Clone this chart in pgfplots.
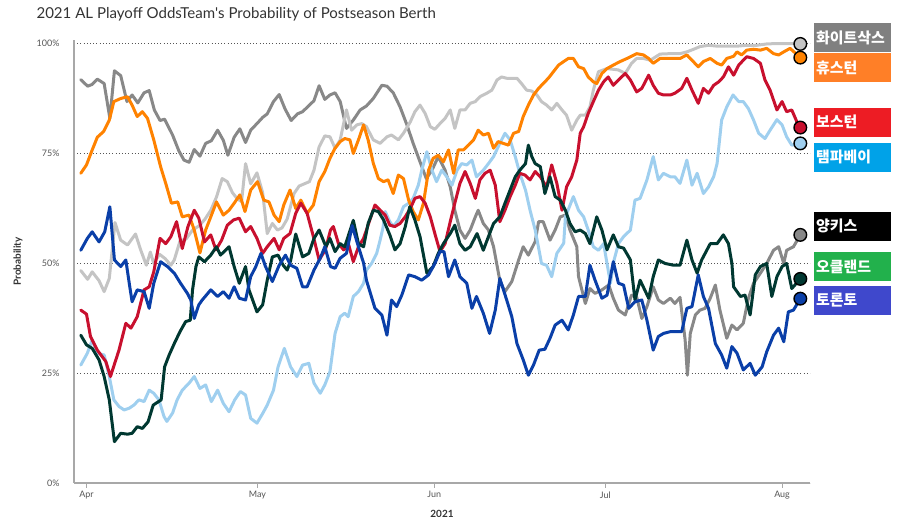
\documentclass[border=0pt]{standalone}
\usepackage{pgfplots}
\pgfplotsset{compat=1.18}
\usepackage{fontspec}
\setmainfont{Lato}
\newfontfamily\kr{Noto Sans CJK KR}
\definecolor{wsox}{HTML}{C4C4C4}
\definecolor{hou}{HTML}{FF8200}
\definecolor{bos}{HTML}{C8102E}
\definecolor{tb}{HTML}{9FCFEF}
\definecolor{nyy}{HTML}{888888}
\definecolor{oak}{HTML}{003831}
\definecolor{tor}{HTML}{0A3FA8}
\definecolor{bwsox}{HTML}{808080}
\definecolor{bhou}{HTML}{FF7F27}
\definecolor{bbos}{HTML}{ED1C24}
\definecolor{btb}{HTML}{00A2E8}
\definecolor{bnyy}{HTML}{000000}
\definecolor{boak}{HTML}{22B14C}
\definecolor{btor}{HTML}{3F48CC}
\definecolor{axisgrey}{HTML}{A8A8A8}
\definecolor{labelgrey}{HTML}{555555}
\definecolor{titlegrey}{HTML}{333333}
\begin{document}
\begin{tikzpicture}
\begin{axis}[
  at={(74bp,43bp)}, anchor=south west,
  scale only axis, width=736bp, height=443bp,
  xmin=-2.19, xmax=126.9, ymin=0, ymax=100.7,
  clip=false,
  axis x line*=bottom, axis y line*=left,
  axis line style={draw=axisgrey, line width=1.5bp, -},
  xtick={0,30,61,91,122}, xticklabels={Apr,May,Jun,Jul,Aug},
  ytick={0,25,50,75,100}, yticklabels={0\%,25\%,50\%,75\%,100\%},
  tick align=outside, major tick length=5bp,
  xtick style={draw=axisgrey, line width=1bp},
  ytick style={draw=none},
  ymajorgrids,
  grid style={draw=labelgrey, line width=0.8bp, dash pattern=on 0.8bp off 2.4bp},
  /pgf/number format/assume math mode=true,
  xticklabel style={font=\fontsize{9}{10}\selectfont, text=labelgrey},
  yticklabel style={font=\fontsize{9}{10}\selectfont, text=labelgrey, xshift=-6bp},
  xlabel={2021}, ylabel={Probability},
  xlabel style={at={(axis description cs:0.5,-0.07)}, anchor=center, font=\bfseries\fontsize{10}{12}\selectfont, text=titlegrey},
  ylabel style={at={(axis description cs:-0.076,0.5)}, anchor=center, font=\bfseries\fontsize{10}{12}\selectfont, text=titlegrey},
  title={2021 AL Playoff OddsTeam\textquotesingle s Probability of Postseason Berth},
  title style={at={(axis description cs:-0.0557,1.034)}, anchor=base west, font=\fontsize{15.1}{17}\selectfont, text=titlegrey},
  every axis plot/.append style={line width=3bp, line join=round, line cap=round},
]
% Yankees
\addplot[nyy, mark=none] coordinates {(-1.0,91.7)(0.2,90.2)(1.0,90.6)(1.9,91.8)(3.1,90.8)(4.1,82.9)(4.9,93.7)(6.0,92.6)(7.1,86.7)(8.0,88.2)(9.0,86.4)(10.1,88.7)(11.0,89.2)(11.9,84.8)(12.9,82.4)(13.7,82.7)(15.1,79.1)(16.2,75.5)(17.1,73.4)(18.0,72.9)(18.9,75.8)(19.9,74.3)(20.9,77.2)(21.9,77.8)(23.0,80.2)(24.0,77.9)(24.8,74.5)(25.9,78.6)(26.9,80.5)(27.9,77.4)(28.8,80.2)(29.9,81.7)(30.9,83.1)(31.7,83.9)(32.8,86.7)(33.8,88.3)(34.8,85.1)(35.9,82.4)(37.0,83.9)(37.9,84.4)(38.7,85.4)(39.9,86.9)(40.8,90.3)(41.8,87.2)(42.7,88.2)(43.6,88.7)(44.5,86.7)(45.6,80.6)(46.8,82.5)(48.0,84.8)(49.1,85.7)(50.3,87.4)(51.8,90.4)(52.7,90.2)(53.8,88.7)(55.0,85.5)(56.2,81.4)(57.3,77.2)(58.5,73.0)(59.6,69.2)(60.6,71.1)(61.7,74.2)(62.9,71.1)(63.8,67.3)(64.6,62.0)(65.5,57.5)(66.4,55.6)(67.3,57.5)(68.2,60.5)(68.7,62.0)(69.6,59.0)(70.5,57.5)(71.4,53.7)(72.5,46.0)(73.4,43.5)(74.6,45.8)(75.8,50.7)(76.6,53.7)(77.5,51.8)(78.7,54.9)(79.3,59.4)(80.1,59.4)(81.3,55.2)(82.2,57.5)(83.1,60.5)(84.0,60.9)(84.8,57.5)(86.0,53.7)(86.3,46.9)(87.5,40.8)(88.3,44.2)(89.2,43.1)(90.4,43.9)(91.6,45.0)(92.4,42.0)(93.3,39.3)(94.5,38.2)(95.6,42.7)(96.5,42.3)(97.4,37.4)(98.3,40.1)(99.4,44.6)(100.3,41.6)(101.2,40.8)(102.4,42.0)(103.2,40.8)(104.1,42.2)(105.0,32.5)(105.4,24.5)(105.9,34.0)(106.8,38.2)(107.6,39.3)(108.5,39.7)(109.4,42.0)(110.3,45.0)(111.1,39.3)(112.3,32.9)(113.2,35.9)(114.1,34.8)(115.2,36.3)(116.1,42.0)(117.0,45.4)(118.2,47.7)(119.3,49.9)(120.5,52.9)(121.4,53.7)(122.3,49.9)(122.8,52.9)(124.0,53.7)(125.2,56.4)};
% White Sox
\addplot[wsox, mark=none] coordinates {(-1.0,48.3)(0.2,46.3)(1.0,48.0)(2.2,46.0)(3.1,43.5)(4.0,46.5)(5.0,59.2)(6.0,55.2)(7.2,54.1)(8.6,56.6)(9.5,53.0)(10.5,49.5)(11.2,52.5)(11.8,49.9)(12.8,52.0)(13.8,51.0)(14.8,49.5)(15.4,50.7)(16.4,55.0)(17.5,55.5)(18.6,57.5)(19.8,58.5)(20.8,60.0)(21.8,62.0)(22.8,65.0)(23.8,69.2)(24.7,68.5)(25.6,66.0)(26.5,64.5)(27.2,64.0)(27.9,72.6)(28.8,68.0)(29.9,70.5)(30.9,66.0)(31.7,56.7)(32.6,59.0)(33.5,57.5)(34.3,58.0)(35.2,60.0)(36.4,65.8)(37.3,67.5)(38.2,68.0)(39.1,68.5)(39.9,71.1)(40.8,76.4)(41.8,78.9)(42.7,78.7)(43.6,76.1)(44.5,78.0)(45.6,84.8)(46.5,80.2)(47.4,81.4)(48.3,81.7)(49.1,81.0)(50.3,78.0)(51.5,77.2)(52.7,78.7)(53.5,79.1)(54.7,78.0)(55.6,79.5)(56.8,82.1)(57.6,84.4)(58.5,85.9)(59.4,84.0)(60.3,81.0)(61.1,80.4)(62.0,81.7)(62.9,82.9)(63.8,84.8)(64.6,80.6)(65.5,84.8)(66.4,84.8)(67.3,86.3)(68.2,86.7)(69.0,87.8)(70.2,88.6)(71.1,89.3)(72.0,91.6)(72.8,92.3)(73.7,92.0)(74.6,92.0)(75.5,92.0)(76.3,90.8)(77.2,89.3)(78.1,89.1)(79.0,88.2)(79.8,86.7)(80.7,85.9)(81.6,84.8)(82.5,86.3)(83.4,84.8)(84.2,83.6)(85.1,80.2)(86.0,82.5)(86.6,83.6)(87.5,83.6)(88.3,85.5)(88.9,89.3)(89.8,93.5)(91.3,94.2)(93.3,93.9)(94.5,93.1)(95.6,95.4)(96.5,96.5)(97.7,96.5)(98.9,96.1)(100.6,97.5)(102.4,97.6)(104.1,97.6)(105.3,98.0)(106.5,98.6)(107.6,99.2)(109.1,99.5)(110.6,99.3)(112.3,99.3)(114.1,99.3)(115.8,99.5)(117.6,99.5)(119.3,99.8)(121.1,99.9)(122.8,99.9)(124.0,99.9)(125.2,99.8)};
% Rays
\addplot[tb, mark=none] coordinates {(-1.0,26.8)(0.15,29.5)(1.0,32.5)(1.9,29.5)(3.1,29.1)(4.0,24.2)(4.8,18.9)(5.7,17.4)(6.6,16.6)(7.5,17.0)(8.3,17.7)(9.2,18.9)(10.1,18.5)(11.0,21.1)(11.8,20.4)(12.7,18.9)(13.6,15.1)(14.1,14.0)(15.1,15.9)(15.9,18.9)(16.8,21.1)(18.0,22.7)(18.9,24.2)(19.9,21.5)(20.9,22.3)(21.9,18.5)(23.0,21.1)(24.0,18.1)(25.0,16.2)(26.0,18.9)(27.0,20.8)(27.9,20.0)(28.8,14.7)(29.9,13.6)(30.9,15.8)(31.7,17.7)(32.8,21.1)(33.6,26.4)(34.7,30.6)(35.8,26.4)(36.9,24.2)(37.9,26.8)(39.0,27.2)(39.9,22.7)(41.0,20.4)(41.8,22.3)(42.7,25.3)(43.6,34.0)(44.5,37.8)(45.3,38.6)(45.9,37.8)(46.8,42.4)(47.7,43.5)(48.6,45.4)(49.1,48.4)(50.0,49.9)(50.9,52.2)(51.5,55.2)(52.0,58.0)(52.4,61.7)(53.2,59.4)(53.8,58.3)(54.7,59.8)(55.6,62.8)(56.5,63.6)(57.3,64.7)(58.2,67.7)(58.8,71.1)(59.7,75.3)(60.6,71.1)(61.4,68.5)(62.3,71.1)(63.2,69.6)(64.1,67.7)(65.0,71.1)(65.8,72.6)(66.7,72.3)(67.6,73.4)(68.4,69.6)(69.6,71.1)(70.5,72.6)(71.4,74.2)(72.5,77.2)(73.4,79.5)(74.3,78.0)(75.2,74.2)(76.0,70.4)(77.0,66.6)(77.8,62.0)(78.7,57.5)(79.6,51.4)(79.8,49.9)(80.7,49.5)(81.6,46.9)(82.5,52.2)(83.7,54.5)(84.0,60.5)(85.4,65.1)(86.3,62.0)(87.2,60.5)(88.0,57.5)(88.9,53.7)(89.8,52.9)(90.7,54.4)(91.9,45.4)(92.5,50.5)(93.3,54.4)(94.2,56.0)(95.4,57.5)(96.2,64.3)(97.1,64.7)(98.3,68.9)(99.4,74.2)(100.3,68.9)(101.2,70.4)(102.4,69.6)(103.2,69.6)(104.1,68.1)(105.3,73.4)(106.2,67.7)(107.1,70.4)(108.2,65.8)(109.1,67.3)(110.0,69.6)(110.6,72.6)(111.4,82.5)(112.3,85.5)(113.4,88.2)(114.4,86.7)(115.2,86.7)(116.1,85.1)(117.0,82.5)(117.9,79.5)(119.0,78.3)(119.9,80.2)(121.1,82.6)(122.0,81.4)(122.8,78.7)(123.7,76.8)(125.2,77.2)};
% Astros
\addplot[hou, mark=none] coordinates {(-1.0,70.4)(0.0,72.3)(1.0,75.7)(1.9,78.6)(3.0,79.9)(4.0,82.5)(4.8,86.7)(6.0,87.4)(7.2,87.8)(8.0,85.9)(8.9,83.3)(9.8,84.4)(10.7,82.9)(11.8,78.0)(13.0,71.9)(13.9,68.1)(14.9,63.6)(16.0,63.9)(16.8,60.5)(18.0,60.9)(18.9,57.5)(19.9,52.3)(20.9,57.5)(21.8,60.5)(22.8,63.9)(24.0,60.9)(25.0,62.0)(25.9,63.6)(26.9,65.5)(27.8,61.7)(28.8,66.6)(30.0,68.5)(31.1,64.3)(32.0,63.9)(32.9,60.9)(33.8,59.4)(34.6,63.2)(35.7,66.6)(36.7,62.4)(37.6,64.3)(38.7,61.3)(39.8,63.2)(40.8,68.5)(41.8,70.8)(42.7,73.8)(43.6,76.1)(44.5,77.6)(45.3,78.3)(46.2,78.0)(46.8,74.9)(47.7,78.0)(48.6,81.4)(49.4,78.0)(50.3,72.7)(51.2,69.2)(52.1,68.5)(52.9,68.9)(53.8,65.8)(54.7,70.0)(55.6,69.2)(56.5,64.3)(57.3,61.7)(58.2,59.8)(59.1,63.6)(60.0,71.1)(60.8,73.8)(61.7,74.5)(62.6,73.0)(63.5,75.7)(64.4,70.4)(65.2,75.7)(66.1,75.7)(67.0,76.8)(67.9,78.0)(68.7,80.2)(69.6,79.1)(70.5,79.5)(71.4,76.1)(72.2,77.6)(73.1,77.2)(74.0,76.8)(74.9,79.5)(75.8,79.9)(76.6,83.3)(77.5,85.9)(78.4,88.2)(79.3,89.7)(80.1,90.8)(81.0,92.0)(81.9,93.5)(82.8,95.0)(83.7,95.8)(84.5,96.5)(85.4,96.5)(86.3,94.6)(87.2,94.2)(88.0,92.3)(88.9,91.2)(89.5,90.8)(90.4,93.1)(91.3,94.2)(92.4,95.0)(93.6,95.8)(94.8,96.5)(95.6,97.0)(96.5,97.6)(97.7,97.3)(98.6,96.5)(99.4,95.4)(100.6,96.5)(102.4,96.5)(104.1,96.5)(105.3,97.3)(106.2,96.1)(107.3,94.6)(108.2,95.8)(109.4,96.5)(110.6,95.4)(111.4,95.0)(112.3,96.5)(113.5,97.0)(114.1,98.0)(114.9,97.3)(115.8,98.4)(117.0,98.6)(118.2,98.4)(119.3,98.8)(120.5,97.6)(121.4,97.3)(122.3,98.0)(123.4,98.8)(125.2,96.7)};
% Boston
\addplot[bos, mark=none] coordinates {(-1.0,39.3)(0.0,38.4)(0.7,33.3)(1.9,30.2)(3.4,27.6)(4.2,24.2)(5.7,30.2)(6.9,36.3)(7.8,35.2)(8.9,37.8)(10.1,43.9)(11.0,44.6)(11.8,48.0)(12.9,55.6)(13.9,54.4)(14.8,56.0)(15.8,59.4)(16.8,53.3)(17.8,58.3)(18.9,62.0)(19.7,60.2)(20.7,54.8)(21.8,56.4)(22.7,53.0)(23.7,55.2)(24.7,58.6)(25.8,59.8)(26.8,60.2)(27.9,57.1)(28.8,58.3)(29.9,55.6)(30.9,52.2)(31.7,53.7)(32.9,55.6)(33.8,53.0)(34.6,55.6)(35.7,56.7)(36.7,61.3)(37.6,63.6)(38.7,61.3)(39.8,56.0)(40.8,50.7)(41.9,53.0)(42.8,57.5)(43.3,58.3)(44.2,54.4)(45.1,53.0)(46.0,54.1)(46.8,50.3)(47.7,53.7)(48.6,55.6)(49.7,59.8)(50.6,63.2)(51.5,62.0)(52.4,60.9)(53.2,58.6)(54.1,58.3)(55.0,59.0)(55.9,60.5)(56.8,62.4)(57.6,64.7)(58.5,65.1)(59.4,63.6)(60.3,60.5)(61.1,56.7)(62.0,52.6)(62.9,54.4)(63.8,59.4)(64.6,63.6)(65.5,68.1)(66.4,70.8)(67.3,68.1)(68.2,64.7)(69.0,68.9)(69.9,70.4)(70.8,71.1)(71.7,67.7)(72.5,59.4)(73.4,62.0)(74.3,65.1)(75.2,67.7)(76.0,70.4)(76.9,70.0)(77.8,68.9)(78.7,70.8)(79.6,69.6)(80.7,67.3)(81.6,72.3)(82.5,68.1)(83.4,62.0)(84.2,67.3)(85.1,69.6)(86.0,73.4)(86.6,79.5)(87.2,81.0)(88.0,84.0)(88.9,86.7)(89.8,89.3)(90.7,91.2)(91.5,92.3)(92.4,90.4)(93.3,91.6)(94.5,93.1)(95.4,91.6)(96.5,88.9)(97.4,89.7)(98.6,92.7)(99.4,90.4)(100.3,88.6)(101.2,88.2)(102.4,88.2)(103.2,88.6)(104.4,89.7)(105.3,92.0)(106.2,89.3)(107.3,86.3)(108.2,89.7)(109.1,88.6)(110.0,90.4)(110.9,91.2)(111.7,92.3)(112.6,94.6)(113.5,92.7)(114.4,95.0)(115.2,96.1)(115.8,96.9)(117.0,96.5)(118.2,95.4)(119.0,91.6)(119.9,89.3)(121.1,84.8)(122.0,86.7)(122.8,84.4)(123.7,84.8)(124.6,82.1)(125.2,80.8)};
% Oakland
\addplot[oak, mark=none] coordinates {(-1.0,33.6)(0.0,31.4)(1.0,30.6)(2.2,28.0)(3.1,24.2)(4.0,18.9)(4.5,13.6)(4.9,9.4)(6.0,11.3)(7.2,11.1)(8.0,11.3)(8.9,12.8)(9.8,12.4)(10.8,13.9)(11.7,17.7)(12.4,18.3)(13.1,18.9)(13.7,26.4)(14.5,29.1)(15.4,31.7)(16.4,34.4)(17.4,36.7)(18.2,37.0)(18.6,43.9)(19.2,49.2)(19.7,51.4)(20.7,50.3)(21.8,51.8)(22.8,53.7)(23.5,51.8)(25.0,53.7)(25.9,49.2)(26.8,45.4)(27.9,49.2)(28.5,43.9)(29.9,38.9)(30.9,40.5)(31.7,46.1)(32.6,51.4)(33.6,51.8)(34.5,49.5)(35.2,48.4)(35.8,50.5)(36.7,56.6)(37.9,51.4)(39.0,52.2)(39.9,55.6)(40.8,57.5)(42.0,53.7)(42.7,55.6)(43.6,52.6)(44.5,54.4)(45.3,53.7)(46.8,59.7)(47.7,54.4)(48.6,53.7)(49.4,59.0)(50.3,62.0)(51.2,61.7)(52.1,59.8)(53.2,56.4)(54.1,53.0)(55.0,54.4)(55.9,58.2)(56.7,62.8)(57.6,59.8)(58.5,56.0)(59.7,47.7)(60.8,49.2)(61.7,52.2)(62.6,54.4)(63.8,56.7)(64.6,58.6)(65.5,54.4)(66.4,52.9)(67.3,53.7)(68.5,56.7)(69.6,52.9)(70.5,56.0)(71.4,59.0)(72.5,60.5)(73.4,63.6)(74.3,66.6)(75.2,69.6)(76.0,71.1)(77.0,72.6)(77.5,76.8)(78.1,74.2)(78.7,72.6)(79.6,71.9)(80.4,65.8)(81.3,69.6)(82.2,65.1)(83.1,64.3)(84.0,62.0)(84.8,59.0)(85.7,57.1)(86.6,57.5)(87.5,56.7)(88.3,54.4)(89.5,60.5)(90.4,57.5)(91.3,53.0)(92.4,56.4)(93.3,53.7)(94.2,53.4)(95.1,51.4)(95.4,50.7)(96.2,41.6)(97.1,46.1)(98.6,42.0)(99.4,46.9)(100.3,50.7)(101.5,49.9)(103.0,49.5)(104.1,49.5)(105.3,55.2)(106.2,50.7)(107.1,47.7)(107.9,50.7)(109.4,54.4)(110.6,54.4)(111.7,56.4)(112.6,54.4)(113.2,49.9)(113.5,44.6)(114.7,42.4)(115.5,42.7)(116.4,38.2)(117.3,47.3)(118.2,49.2)(119.3,49.9)(120.2,42.4)(121.1,46.9)(122.0,49.2)(122.8,49.9)(123.7,44.2)(125.2,46.4)};
% Toronto
\addplot[tor, mark=none] coordinates {(-1.0,52.9)(0.15,55.6)(1.0,57.1)(2.2,54.8)(3.2,57.1)(4.1,62.8)(4.9,50.7)(6.0,49.2)(6.9,50.7)(7.5,45.4)(8.0,41.2)(8.9,43.9)(10.1,43.5)(11.0,39.7)(11.8,45.4)(13.0,50.3)(14.2,49.2)(15.4,47.7)(16.5,45.4)(17.7,43.1)(18.3,41.6)(18.9,37.4)(19.7,40.5)(20.3,41.6)(21.8,43.9)(23.0,42.4)(24.0,43.5)(25.0,42.0)(25.9,44.6)(26.8,42.0)(27.9,41.6)(28.8,46.9)(29.7,49.2)(30.6,52.2)(31.4,49.2)(32.6,45.8)(33.8,49.5)(34.9,51.8)(35.8,49.5)(36.9,48.8)(37.9,44.6)(38.7,44.6)(39.9,48.4)(41.0,51.1)(41.8,53.7)(42.8,49.2)(43.6,48.8)(44.5,51.1)(45.6,52.2)(46.6,58.5)(47.7,53.7)(48.6,50.0)(49.1,46.1)(50.6,39.7)(51.8,38.2)(52.7,33.6)(53.5,41.6)(54.4,40.1)(55.3,42.7)(56.5,47.3)(57.6,46.9)(58.8,46.1)(60.0,47.3)(61.1,49.9)(62.0,52.6)(62.7,52.6)(63.5,46.9)(64.6,50.7)(65.5,46.9)(66.7,45.4)(67.6,39.7)(68.4,42.4)(69.6,38.6)(70.7,34.0)(71.7,39.3)(72.5,46.5)(73.7,41.6)(74.6,37.8)(75.5,31.7)(76.6,28.0)(77.5,24.5)(78.4,26.8)(79.4,30.2)(80.4,30.4)(81.3,32.9)(82.2,35.9)(83.4,37.0)(84.5,34.8)(85.4,38.2)(86.3,42.4)(87.5,42.4)(88.3,49.5)(89.2,46.1)(90.4,42.0)(91.3,42.7)(92.4,50.3)(93.3,45.4)(94.2,45.0)(95.1,39.7)(96.2,41.2)(97.4,41.6)(98.3,37.0)(99.4,30.2)(100.3,33.3)(101.2,34.0)(102.4,34.4)(103.2,34.4)(104.4,34.4)(105.3,39.7)(106.2,40.1)(107.3,47.3)(108.2,42.4)(109.1,39.7)(110.3,31.7)(111.4,29.1)(112.3,26.1)(113.2,31.0)(114.1,29.5)(115.2,25.7)(116.4,27.2)(117.3,24.5)(118.5,26.4)(119.3,29.8)(120.5,33.6)(121.4,35.2)(122.3,32.1)(123.1,38.9)(124.0,39.3)(125.2,41.9)};
% end markers
\addplot[only marks, mark=*, mark size=6.3bp, mark options={fill=wsox, draw=black, line width=1.4bp}] coordinates {(125.2,99.8)};
\addplot[only marks, mark=*, mark size=6.3bp, mark options={fill=hou, draw=black, line width=1.4bp}] coordinates {(125.2,96.7)};
\addplot[only marks, mark=*, mark size=6.3bp, mark options={fill=bos, draw=black, line width=1.4bp}] coordinates {(125.2,80.8)};
\addplot[only marks, mark=*, mark size=6.3bp, mark options={fill=tb, draw=black, line width=1.4bp}] coordinates {(125.2,77.2)};
\addplot[only marks, mark=*, mark size=6.3bp, mark options={fill=nyy, draw=black, line width=1.4bp}] coordinates {(125.2,56.4)};
\addplot[only marks, mark=*, mark size=6.3bp, mark options={fill=oak, draw=black, line width=1.4bp}] coordinates {(125.2,46.4)};
\addplot[only marks, mark=*, mark size=6.3bp, mark options={fill=tor, draw=black, line width=1.4bp}] coordinates {(125.2,41.9)};
\end{axis}
\begin{scope}[every node/.style={anchor=west, minimum height=29bp, text width=73bp, inner xsep=2bp, inner ysep=0bp, align=left, text=white, font=\kr\bfseries\fontsize{15}{17}\selectfont}]
\node[fill=bwsox] at (814bp,488bp) {화이트삭스};
\node[fill=bhou] at (814bp,458.5bp) {휴스턴};
\node[fill=bbos] at (814bp,403.7bp) {보스턴};
\node[fill=btb] at (814bp,368.7bp) {탬파베이};
\node[fill=bnyy] at (814bp,299.7bp) {양키스};
\node[fill=boak] at (814bp,259bp) {오클랜드};
\node[fill=btor] at (814bp,225.5bp) {토론토};
\end{scope}
\pgfresetboundingbox
\useasboundingbox (0,0) rectangle (900bp,526bp);
\end{tikzpicture}
\end{document}
